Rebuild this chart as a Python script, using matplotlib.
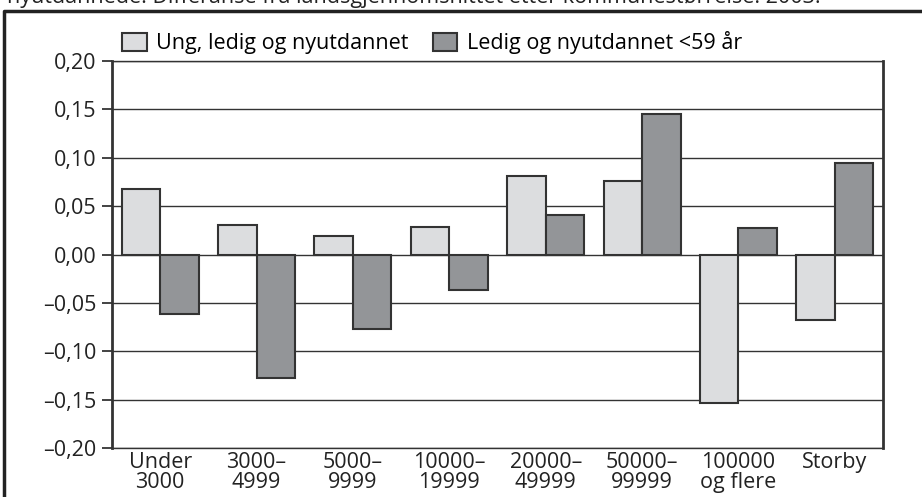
import matplotlib
matplotlib.use("Agg")
import matplotlib.pyplot as plt
from matplotlib.lines import Line2D
import numpy as np

plt.rcParams['font.family'] = ['Open Sans', 'DejaVu Sans']

# Kommunestørrelse
kategorier = ["Under\n3000", "3000–\n4999", "5000–\n9999", "10000–\n19999",
              "20000–\n49999", "50000–\n99999", "100000\nog flere", "Storby"]
ung_ledig = [0.068, 0.031, 0.019, 0.028, 0.081, 0.076, -0.154, -0.068]
ledig_59 = [-0.062, -0.128, -0.077, -0.037, 0.041, 0.145, 0.027, 0.095]
serie_navn = ["Ung, ledig og nyutdannet", "Ledig og nyutdannet <59 år"]
y_ticks = [-0.20, -0.15, -0.10, -0.05, 0.0, 0.05, 0.10, 0.15, 0.20]
y_labels = ["–0,20", "–0,15", "–0,10", "–0,05", "0,00", "0,05", "0,10", "0,15", "0,20"]
tittel = "nyutdannede. Differanse fra landsgjennomsnittet etter kommunestørrelse. 2003."

fs = 15.5
fig = plt.figure(figsize=(9.22, 4.97), dpi=100)
ax = fig.add_axes([112/922, 1 - 448/497, (883 - 112)/922, (448 - 61)/497])

x = np.arange(len(kategorier))
b = 0.4
ax.bar(x - b/2, ung_ledig, width=b, color="#dcdddf", edgecolor="#333333",
       linewidth=1.5, label=serie_navn[0], zorder=3)
ax.bar(x + b/2, ledig_59, width=b, color="#939598", edgecolor="#333333",
       linewidth=1.5, label=serie_navn[1], zorder=3)

ax.set_xlim(-0.5, len(kategorier) - 0.5)
ax.set_ylim(-0.20, 0.20)
ax.set_yticks(y_ticks)
ax.set_yticklabels(y_labels)
ax.set_xticks(x)
ax.set_xticklabels(kategorier, linespacing=0.9)
ax.tick_params(axis="x", length=0, pad=3, labelsize=fs, colors="#222222")
ax.tick_params(axis="y", length=7, width=1.2, direction="out", pad=4,
               labelsize=fs, colors="#222222")
ax.grid(axis="y", color="#333333", linewidth=1.0, zorder=0)
for s in ["left", "right"]:
    ax.spines[s].set_linewidth(2)
    ax.spines[s].set_color("#333333")
for s in ["top", "bottom"]:
    ax.spines[s].set_linewidth(1.0)
    ax.spines[s].set_color("#333333")

fig.legend(loc="center left", bbox_to_anchor=(122/922, 1 - 43/497), ncol=2,
           frameon=False, fontsize=fs, handlelength=1.15, handleheight=0.85,
           handletextpad=0.45, columnspacing=1.1, borderaxespad=0, borderpad=0)

# ytre ramme og avkuttet tittel (delvis utenfor bildet, som i originalen)
fig.add_artist(Line2D([4/922, 4/922, 1.0], [0.0, 1 - 11/497, 1 - 11/497],
                      transform=fig.transFigure, color="#222222", linewidth=2.5))
fig.text(7/922, 1 - 3/497, tittel, fontsize=fs, va="baseline", ha="left",
         color="#222222")

fig.savefig("out.png", dpi=100)
